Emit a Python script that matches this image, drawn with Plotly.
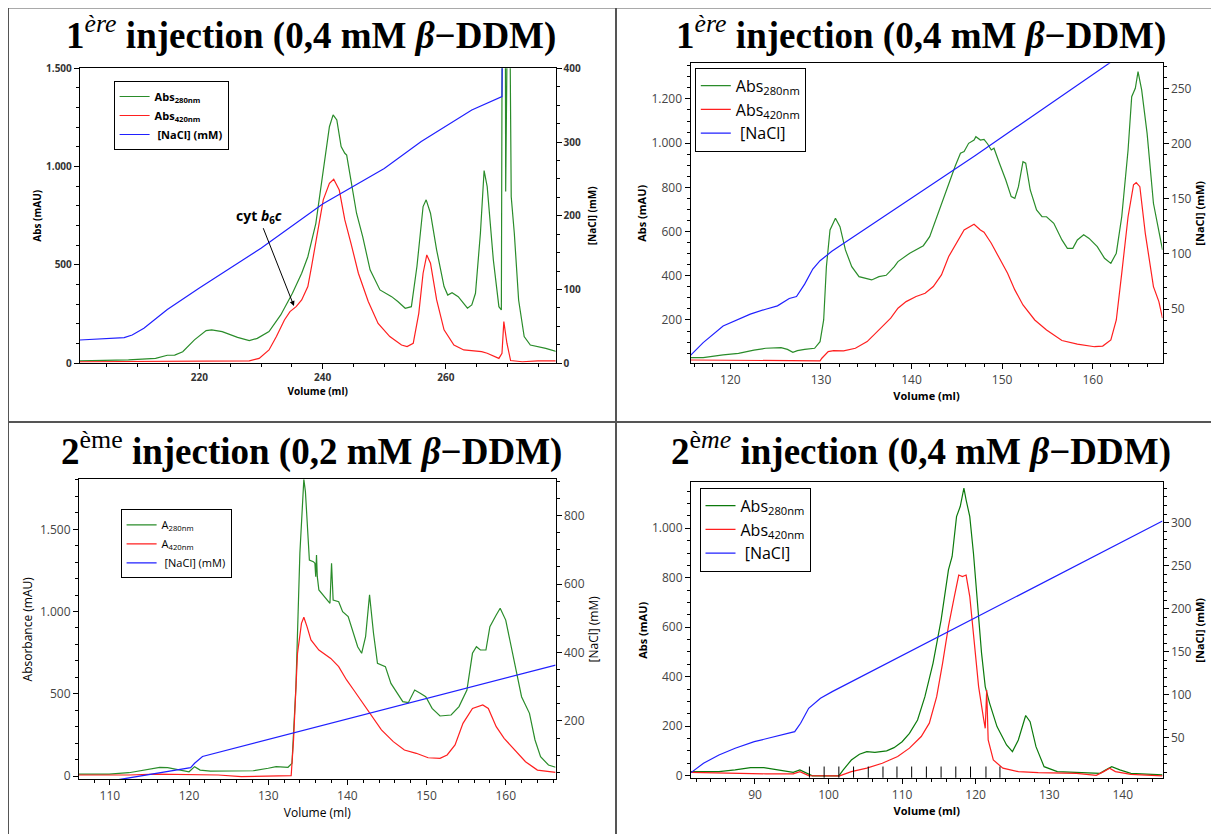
import plotly.graph_objects as go

# The page body keeps the browser's default 8 px margin, so the figure is drawn at (8, 8).
OFF = 8
W, H = 1219 - OFF, 834 - OFF

# ---------------- Panel 1 : 1ère injection (0,4 mM) ----------------
p1_vol_280 = [200.6, 208.5, 212.9, 214.8, 216.0, 217.3, 219.2, 221.1, 222.0, 223.7, 226.2, 228.1, 229.4,
              231.3, 233.2, 235.1, 236.6, 237.6, 238.9, 240.1, 241.1, 241.7, 242.3, 243.0, 243.6, 243.9,
              244.6, 245.5, 246.5, 247.7, 249.3, 251.2, 252.2, 253.4, 254.4, 255.3, 256.3, 256.8, 257.5,
              258.5, 259.7, 260.3, 261.0, 262.0, 263.5, 264.2, 264.8, 265.6, 266.2, 266.7, 267.7, 268.6,
              269.0, 269.2, 269.6, 269.7, 269.8, 270.2, 270.6, 271.1, 271.8, 272.7, 273.7, 276.2, 278.0]
p1_abs_280 = [12, 17, 25, 41, 42, 59, 119, 166, 170, 161, 132, 115, 127,
              161, 246, 356, 458, 542, 712, 966, 1203, 1263, 1237, 1102, 1068, 1059,
              932, 763, 644, 475, 373, 339, 314, 280, 288, 492, 797, 831, 763,
              576, 390, 347, 359, 339, 280, 297, 356, 661, 980, 898, 525, 288,
              271, 2500, 2500, 873, 2500, 2500, 847, 661, 322, 136, 93, 76, 59]
p1_vol_420 = [200.6, 228.1, 229.7, 231.3, 232.5, 233.8, 234.7, 235.7, 236.6, 237.6, 238.2, 239.2, 240.1,
              241.1, 241.8, 242.7, 243.6, 244.6, 245.8, 247.4, 249.0, 250.9, 252.8, 253.7, 254.7, 255.6,
              256.3, 256.9, 257.5, 258.5, 259.7, 261.3, 262.9, 265.8, 266.7, 268.6, 269.1, 269.4, 269.9,
              270.5, 272.4, 274.9, 278.0]
p1_abs_420 = [8, 12, 25, 68, 136, 220, 263, 288, 322, 390, 492, 661, 831,
              915, 936, 881, 729, 610, 458, 314, 203, 136, 93, 85, 102, 254,
              458, 551, 509, 322, 170, 93, 68, 59, 51, 25, 51, 212, 102,
              14, 8, 12, 12]
p1_vol_nacl = [200.6, 207.8, 209.1, 211.0, 214.8, 220.0, 230.0, 240.0, 250.0, 256.0, 264.2, 269.1, 269.4]
p1_nacl = [31.6, 34.8, 38.4, 47.5, 73, 102, 156, 216, 264, 300.6, 343.5, 361.6, 700]

# ---------------- Panel 2 : 1ère injection (0,4 mM), second run ----------------
p2_vol_280 = [115.6, 117.0, 119.2, 120.9, 122.6, 123.9, 125.6, 126.3, 126.9, 127.4, 128.2, 129.3, 129.9,
              130.3, 130.6, 131.0, 131.6, 132.1, 132.7, 133.4, 134.2, 135.6, 136.4, 137.2, 138.1, 138.5,
              139.8, 141.3, 142.0, 142.8, 143.5, 144.1, 144.8, 145.4, 145.8, 146.3, 146.9, 147.1, 147.6,
              148.0, 148.4, 148.8, 149.1, 149.7, 150.4, 151.0, 151.4, 151.8, 152.3, 152.6, 153.1, 153.8,
              154.4, 154.9, 155.7, 156.6, 157.2, 157.8, 158.3, 159.0, 159.6, 160.5, 161.3, 162.0, 162.6,
              163.2, 163.9, 164.3, 164.7, 165.0, 165.4, 166.0, 166.7, 167.7]
p2_abs_280 = [30, 30, 42, 49, 64, 72, 75, 67, 54, 61, 67, 72, 102,
              200, 441, 607, 660, 622, 517, 441, 396, 381, 396, 402, 441, 464,
              502, 536, 577, 667, 743, 818, 894, 954, 962, 999, 1014, 1029, 1014,
              1017, 996, 969, 977, 909, 833, 758, 750, 803, 916, 909, 788, 698,
              667, 667, 637, 562, 524, 524, 562, 585, 569, 532, 479, 456, 502,
              667, 969, 1210, 1248, 1323, 1241, 1044, 728, 517]
p2_vol_420 = [115.6, 129.9, 130.1, 130.8, 131.4, 132.5, 133.8, 135.1, 136.4, 137.7, 138.5, 139.4, 140.5,
              141.5, 142.4, 143.3, 144.1, 145.0, 145.8, 146.9, 147.6, 148.0, 148.8, 149.7, 150.6, 151.4,
              152.3, 153.6, 154.9, 156.6, 158.3, 160.2, 161.1, 162.0, 162.6, 163.2, 163.9, 164.5, 164.8,
              165.2, 165.8, 166.7, 167.3, 167.7]
p2_abs_420 = [19, 15, 27, 57, 61, 60, 72, 102, 155, 208, 253, 283, 306,
              321, 351, 404, 487, 554, 607, 633, 607, 597, 547, 479, 411, 336,
              268, 200, 155, 107, 91, 79, 82, 110, 200, 411, 667, 811, 821,
              803, 592, 351, 283, 208]
p2_vol_nacl = [115.6, 117.0, 119.2, 120.9, 122.2, 123.9, 125.2, 126.5, 127.3, 128.2, 129.1, 129.9, 131.2,
               147.0, 161.7, 167.7]
p2_nacl = [8.2, 19.7, 34.8, 40.9, 45.5, 50.0, 53.0, 59.7, 61.5, 72.7, 86.4, 93.9, 102.4,
           189.0, 272.7, 306.0]

# ---------------- Panel 3 : 2ème injection (0,2 mM) ----------------
p3_vol_280 = [106.1, 109.9, 112.4, 113.8, 115.3, 116.3, 117.3, 118.7, 120.0, 120.7, 121.4, 122.7, 125.6,
              128.1, 130.0, 131.0, 132.5, 133.0, 133.5, 134.0, 134.5, 134.7, 135.2, 135.7, 135.9, 136.0,
              136.1, 136.2, 136.4, 137.4, 137.8, 138.0, 138.2, 138.9, 139.4, 140.1, 140.6, 141.3, 141.8,
              142.3, 142.8, 143.3, 143.8, 144.8, 145.5, 146.2, 147.0, 147.7, 148.5, 149.2, 149.9, 150.7,
              151.7, 153.1, 154.1, 155.1, 155.8, 156.3, 156.8, 157.5, 158.0, 158.8, 159.3, 160.0, 161.0,
              162.0, 163.0, 163.7, 164.4, 165.4, 166.3]
p3_abs_280 = [12, 12, 20, 32, 47, 53, 51, 36, 26, 57, 36, 30, 32,
              32, 47, 57, 53, 77, 543, 1354, 1804, 1729, 1313, 1303, 1293, 1212,
              1344, 1212, 1131, 1070, 1050, 1293, 1070, 1060, 999, 969, 888, 786, 746,
              847, 1101, 868, 685, 665, 563, 513, 452, 446, 523, 503, 482, 411,
              365, 371, 422, 523, 746, 786, 766, 766, 908, 979, 1020, 948, 705,
              482, 381, 219, 118, 67, 53]
p3_vol_420 = [106.1, 112.4, 115.8, 119.7, 123.7, 126.6, 130.5, 132.9, 133.2, 133.7, 134.2, 134.5, 134.9,
              135.4, 136.4, 137.9, 138.9, 139.9, 140.8, 141.8, 142.8, 144.3, 145.8, 147.2, 148.7, 150.2,
              151.7, 152.6, 153.6, 154.6, 155.8, 157.1, 157.8, 158.8, 159.8, 161.0, 162.5, 164.0, 166.3]
p3_abs_420 = [6, 6, 12, 10, 6, -4, 0, 2, 219, 746, 928, 965, 908,
              827, 766, 715, 665, 584, 523, 452, 381, 280, 209, 158, 138, 111,
              107, 128, 189, 320, 411, 432, 411, 300, 229, 168, 87, 36, 22]
p3_vol_nacl = [110.9, 120.2, 120.7, 121.7, 166.3]
p3_nacl = [27.6, 63.6, 76.3, 96.0, 363.0]

# ---------------- Panel 4 : 2ème injection (0,4 mM) ----------------
p4_vol_280 = [81.3, 85.1, 87.3, 89.4, 91.2, 93.1, 95.2, 96.1, 96.8, 97.8, 99.9, 101.4, 102.0,
              103.1, 104.2, 105.2, 106.3, 107.9, 108.9, 110.0, 111.0, 112.1, 113.1, 114.2, 115.3, 116.3,
              116.8, 117.4, 117.9, 118.4, 118.7, 119.2, 119.7, 120.3, 120.8, 121.3, 121.9, 122.9, 124.2,
              125.0, 125.8, 126.8, 127.4, 128.2, 129.3, 131.1, 133.7, 136.9, 137.7, 138.5, 139.6, 141.1,
              145.4]
p4_abs_280 = [16, 16, 23, 32, 32, 23, 13, 23, 12, -1, -1, -1, 23,
              63, 86, 97, 94, 100, 113, 137, 171, 225, 319, 454, 629, 832,
              886, 1047, 1088, 1162, 1115, 1047, 899, 683, 495, 360, 292, 198, 124,
              97, 144, 243, 218, 117, 36, 16, 12, 9, 23, 36, 23, 9,
              3]
p4_vol_420 = [81.3, 86.2, 91.5, 95.2, 96.1, 97.3, 101.5, 103.1, 105.2, 107.3, 109.4, 111.0, 112.6,
              113.7, 114.7, 115.5, 116.3, 117.1, 117.7, 118.2, 118.7, 119.2, 119.7, 120.4, 121.1, 121.3,
              121.5, 121.7, 122.4, 123.7, 125.8, 128.5, 133.7, 136.4, 137.4, 138.2, 139.0, 141.1, 145.4]
p4_abs_420 = [13, 9, 7, 7, 16, 0, -1, 16, 30, 50, 77, 111, 158,
              212, 319, 454, 603, 724, 811, 805, 811, 724, 575, 360, 225, 191,
              346, 144, 63, 30, 16, 12, 9, 1, 16, 30, 16, 5, -1]
p4_vol_nacl = [81.3, 83.0, 85.1, 87.3, 89.9, 92.5, 95.4, 96.2, 97.3, 98.9, 100.5, 145.4]
p4_nacl = [9.3, 20.2, 29.8, 37.6, 45.3, 51.2, 57.0, 66.7, 84.1, 95.7, 103.5, 301.9]
p4_fraction_vol = [97.4, 99.4, 101.4, 103.4, 105.4, 107.4, 109.3, 111.3, 113.3, 115.3, 117.3, 119.3,
                   121.4, 123.3]
p4_fraction_level = [14, 14, 14, 14, 14, 14, 14, 14, 14, 14, 14, 14, 14, 14]

GREEN = "#2a8c2a"
GREEN4 = "#0c7a0c"
RED = "#ff1f1f"
BLUE = "#2020ff"
SANS = "Open Sans, Noto Sans, sans-serif"


def pxx(p):
    return (p - OFF) / W


def pxy(p):
    return 1 - (p - OFF) / H


fig = go.Figure()


def add_line(x, y, xa, ya, color, name, legend, show=True):
    fig.add_trace(go.Scatter(x=x, y=y, xaxis=xa, yaxis=ya, mode="lines", name=name,
                             line=dict(color=color, width=1.2), legend=legend, showlegend=show,
                             hoverinfo="skip"))


NB = "\u00a0"
add_line(p1_vol_280, p1_abs_280, "x", "y", GREEN, "Abs<sub>280nm</sub>", "legend")
add_line(p1_vol_420, p1_abs_420, "x", "y", RED, "Abs<sub>420nm</sub>", "legend")
add_line(p1_vol_nacl, p1_nacl, "x", "y2", BLUE, NB + "[NaCl] (mM)", "legend")
add_line(p2_vol_280, p2_abs_280, "x2", "y3", GREEN, "Abs<sub>280nm</sub>", "legend2")
add_line(p2_vol_420, p2_abs_420, "x2", "y3", RED, "Abs<sub>420nm</sub>", "legend2")
add_line(p2_vol_nacl, p2_nacl, "x2", "y4", BLUE, NB + "[NaCl]", "legend2")
add_line(p3_vol_280, p3_abs_280, "x3", "y5", GREEN, "A<sub>280nm</sub>", "legend3")
add_line(p3_vol_420, p3_abs_420, "x3", "y5", RED, "A<sub>420nm</sub>", "legend3")
add_line(p3_vol_nacl, p3_nacl, "x3", "y6", BLUE, NB + "[NaCl] (mM)", "legend3")
add_line(p4_vol_280, p4_abs_280, "x4", "y7", GREEN4, "Abs<sub>280nm</sub>", "legend4")
add_line(p4_vol_420, p4_abs_420, "x4", "y7", RED, "Abs<sub>420nm</sub>", "legend4")
add_line(p4_vol_nacl, p4_nacl, "x4", "y8", BLUE, NB + "[NaCl]", "legend4")
fig.add_trace(go.Scatter(x=p4_fraction_vol, y=p4_fraction_level, xaxis="x4", yaxis="y7", mode="markers",
                         marker=dict(symbol="line-ns", size=8, line=dict(color="black", width=1)),
                         showlegend=False, hoverinfo="skip"))


def xaxis(dom, anchor, rng, dtick, mdtick, tfont, title, tifont, standoff):
    return dict(domain=dom, anchor=anchor, range=rng, dtick=dtick, tick0=0, ticks="outside", ticklen=5,
                tickcolor="black", showline=True, linecolor="black", linewidth=1, mirror=True,
                showgrid=False, zeroline=False, tickfont=tfont, automargin=False,
                minor=dict(dtick=mdtick, tick0=0, ticks="outside", ticklen=3, tickcolor="black", showgrid=False),
                title=dict(text=title, font=tifont, standoff=standoff))


def yaxis(dom, anchor, rng, dtick, mdtick, tfont, title, tifont, standoff, side="left", overlay=None):
    d = dict(domain=dom, anchor=anchor, range=rng, dtick=dtick, tick0=0, ticks="outside", ticklen=5,
             tickcolor="black", showline=True, linecolor="black", linewidth=1, showgrid=False,
             zeroline=False, tickfont=tfont, separatethousands=True, side=side, automargin=False,
             minor=dict(dtick=mdtick, tick0=0, ticks="outside", ticklen=3, tickcolor="black", showgrid=False),
             title=dict(text=title, font=tifont, standoff=standoff))
    if overlay:
        d["overlaying"] = overlay
        d.pop("domain")
    return d


tf1 = dict(family=SANS, size=10, color="#333333", weight="bold")
ti1 = dict(family=SANS, size=10, color="black", weight="bold")
tfr = dict(family=SANS, size=12, color="#444444")
tib = dict(family=SANS, size=11, color="black", weight="bold")
tir = dict(family=SANS, size=12, color="black")

d1x = [pxx(79.8), pxx(555.6)]
d1y = [pxy(363.3), pxy(68.3)]
d2x = [pxx(690.5), pxx(1162.5)]
d2y = [pxy(363.3), pxy(63.3)]
d3x = [pxx(79.0), pxx(555.6)]
d3y = [pxy(779.3), pxy(479.3)]
d4x = [pxx(691.0), pxx(1162.5)]
d4y = [pxy(778.3), pxy(482.3)]

p2_range = [115.6, 167.7]

fig.update_layout(
    xaxis=xaxis(d1x, "y", [200.6, 277.8], 20, 5, tf1, "Volume (ml)", ti1, 3),
    yaxis=yaxis(d1y, "x", [0, 1500], 500, 100, tf1, "Abs (mAU)", ti1, 2),
    yaxis2=yaxis(None, "x", [0, 400], 100, 25, tf1, "[NaCl] (mM)", ti1, 8, side="right", overlay="y"),
    xaxis2=xaxis(d2x, "y3", p2_range, 10, 2, tfr, "Volume (ml)", tib, 3),
    yaxis3=yaxis(d2y, "x2", [4, 1361], 200, 50, tfr, "Abs (mAU)", tib, 2),
    yaxis4=yaxis(None, "x2", [1, 272.7], 50, 10, tfr, "[NaCl] (mM)", tib, 2, side="right", overlay="y3"),
    xaxis3=xaxis(d3x, "y5", [106.1, 166.3], 10, 2, tfr, "Volume (ml)", tir, 3),
    yaxis5=yaxis(d3y, "x3", [-20, 1804], 500, 100, tfr, "Absorbance (mAU)", tir, 4),
    yaxis6=yaxis(None, "x3", [29.5, 906], 200, 50, tfr, "[NaCl] (mM)", tir, 2, side="right", overlay="y5"),
    xaxis4=xaxis(d4x, "y7", [81.3, 145.4], 10, 2, tfr, "Volume (ml)", tib, 3),
    yaxis7=yaxis(d4y, "x4", [-11, 1186], 200, 50, tfr, "Abs (mAU)", tib, 2),
    yaxis8=yaxis(None, "x4", [2.7, 347], 50, 10, tfr, "[NaCl] (mM)", tib, 2, side="right", overlay="y7"),
    # inner half of the crossing ticks on panel 2's volume axis
    xaxis5=dict(overlaying="x2", anchor="y3", range=p2_range, dtick=2, tick0=0, ticks="inside", ticklen=4,
                tickcolor="black", showticklabels=False, showline=False, showgrid=False, zeroline=False,
                automargin=False),
)


def legend(x, y, size, weight):
    return dict(x=pxx(x), y=pxy(y), xanchor="left", yanchor="top", bgcolor="white",
                bordercolor="black", borderwidth=1, itemwidth=30, tracegroupgap=0,
                font=dict(family=SANS, size=size, color="black", weight=weight))


fig.update_layout(
    legend=legend(113.6, 81, 11, "bold"),
    legend2=legend(694.8, 67.7, 16, "normal"),
    legend3=legend(120.6, 509.3, 11, "normal"),
    legend4=legend(699.5, 487.7, 16, "normal"),
)

SERIF = "Liberation Serif, DejaVu Serif, serif"
SUP1 = "<sup><span style='font-weight:normal'><i>ère</i></span></sup>"
SUP3 = "<sup><span style='font-weight:normal'>ème</span></sup>"
SUP4 = "<sup><span style='font-weight:normal'>è<i>me</i></span></sup>"
titles = [
    (311, 33, "1" + SUP1 + " injection (0,4 mM <i>β</i>−DDM)"),
    (921, 33, "1" + SUP1 + " injection (0,4 mM <i>β</i>−DDM)"),
    (311, 449, "2" + SUP3 + " injection (0,2 mM <i>β</i>−DDM)"),
    (921, 449, "2" + SUP4 + " injection (0,4 mM <i>β</i>−DDM)"),
]
for cx, cy, txt in titles:
    fig.add_annotation(x=pxx(cx), y=pxy(cy), xref="paper", yref="paper", text=txt, showarrow=False,
                       xanchor="center", yanchor="middle",
                       font=dict(family=SERIF, size=37, color="black", weight="bold"))

fig.add_annotation(x=235.35, y=291, xref="x", yref="y", ax=229.6, ay=748, axref="x", ayref="y",
                   text="cyt <i>b</i><sub>6</sub><i>c</i>", showarrow=True, arrowhead=2, arrowsize=1,
                   arrowwidth=1, arrowcolor="black", standoff=0,
                   font=dict(family=SANS, size=14, color="black", weight="bold"))

frame = [
    (pxx(8), pxy(7.5), pxx(8), pxy(834)),
    (pxx(8), pxy(7.5), pxx(1219), pxy(7.5)),
    (pxx(616), pxy(7.5), pxx(616), pxy(834)),
    (pxx(8), pxy(422), pxx(1219), pxy(422)),
]
for x0, y0, x1, y1 in frame:
    fig.add_shape(type="line", xref="paper", yref="paper", x0=x0, y0=y0, x1=x1, y1=y1,
                  line=dict(color="#555555", width=2))

fig.update_layout(width=W, height=H, margin=dict(l=0, r=0, t=0, b=0, autoexpand=False), separators=",.",
                  paper_bgcolor="white", plot_bgcolor="white")

fig.write_html("out.html")
